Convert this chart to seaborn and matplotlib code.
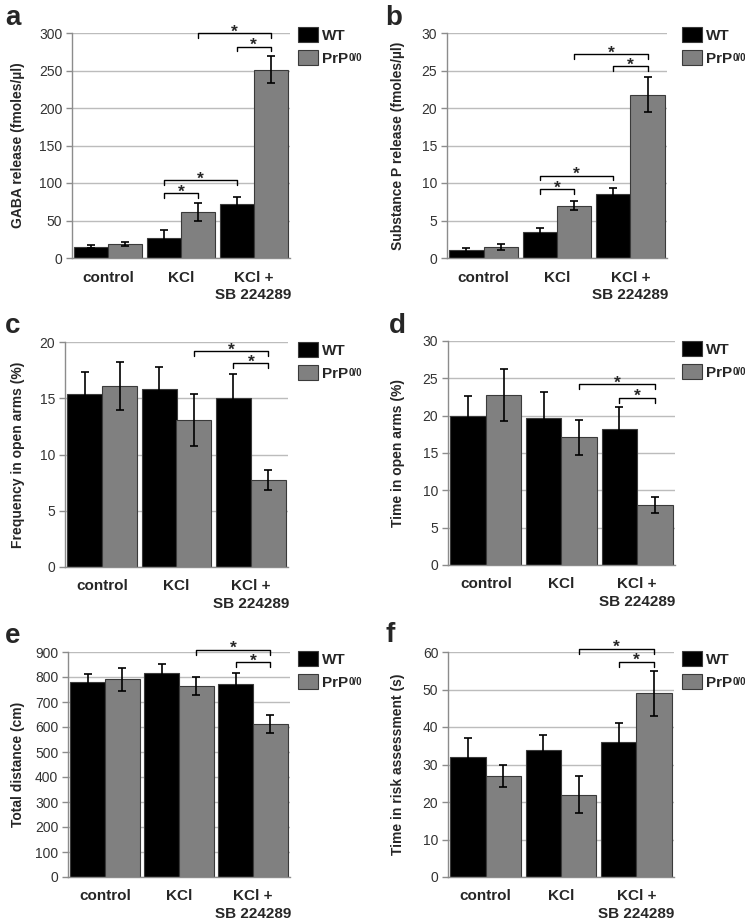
import matplotlib
matplotlib.use("Agg")
import matplotlib.pyplot as plt
import seaborn as sns
import numpy as np
import pandas as pd

# categories / groups
conditions = ["control", "KCl", "KCl +\nSB 224289"]
genotypes = ["WT", "PrP"]
ko_superscript = "0/0"

# a - GABA release
gaba_wt = [15, 27, 72]
gaba_wt_err = [2, 10, 9]
gaba_ko = [19, 61, 251]
gaba_ko_err = [3, 12, 18]

# b - substance P release
subp_wt = [1.1, 3.5, 8.5]
subp_wt_err = [0.3, 0.5, 0.9]
subp_ko = [1.45, 7.0, 21.8]
subp_ko_err = [0.4, 0.65, 2.3]

# c - frequency in open arms
freq_wt = [15.35, 15.8, 15.0]
freq_wt_err = [1.95, 2.0, 2.2]
freq_ko = [16.1, 13.1, 7.75]
freq_ko_err = [2.1, 2.3, 0.9]

# d - time in open arms
time_wt = [20.0, 19.7, 18.25]
time_wt_err = [2.6, 3.5, 2.95]
time_ko = [22.8, 17.1, 8.0]
time_ko_err = [3.5, 2.35, 1.1]

# e - total distance
dist_wt = [780, 815, 773]
dist_wt_err = [32, 37, 43]
dist_ko = [791, 765, 613]
dist_ko_err = [45, 37, 37]

# f - risk assessment
risk_wt = [32, 34, 36]
risk_wt_err = [5, 4, 5]
risk_ko = [27, 22, 49]
risk_ko_err = [3, 5, 6]

# significance brackets: ((group, genotype), (group, genotype), height)
sig_a = [((1, 0), (2, 0), 103.6), ((1, 0), (1, 1), 86.7),
         ((1, 1), (2, 1), 300), ((2, 0), (2, 1), 282)]
sig_b = [((1, 0), (2, 0), 11.0), ((1, 0), (1, 1), 9.2),
         ((1, 1), (2, 1), 27.2), ((2, 0), (2, 1), 25.6)]
sig_c = [((1, 1), (2, 1), 19.2), ((2, 0), (2, 1), 18.1)]
sig_d = [((1, 1), (2, 1), 24.2), ((2, 0), (2, 1), 22.4)]
sig_e = [((1, 1), (2, 1), 909), ((2, 0), (2, 1), 860)]
sig_f = [((1, 1), (2, 1), 60.9), ((2, 0), (2, 1), 57.4)]

sns.set_theme(style="white")
plt.rcParams["font.family"] = ["Liberation Sans", "DejaVu Sans"]

W, H = 745, 923
fig = plt.figure(figsize=(W / 100, H / 100), dpi=100)

panels = [
    # letter, ylabel, wt, wt_err, ko, ko_err, ymax, step, sigs
    ("a", "GABA release (fmoles/µl)", gaba_wt, gaba_wt_err, gaba_ko, gaba_ko_err, 300, 50, sig_a),
    ("b", "Substance P release (fmoles/µl)", subp_wt, subp_wt_err, subp_ko, subp_ko_err, 30, 5, sig_b),
    ("c", "Frequency in open arms (%)", freq_wt, freq_wt_err, freq_ko, freq_ko_err, 20, 5, sig_c),
    ("d", "Time in open arms (%)", time_wt, time_wt_err, time_ko, time_ko_err, 30, 5, sig_d),
    ("e", "Total distance (cm)", dist_wt, dist_wt_err, dist_ko, dist_ko_err, 900, 100, sig_e),
    ("f", "Time in risk assessment (s)", risk_wt, risk_wt_err, risk_ko, risk_ko_err, 60, 10, sig_f),
]

# pixel boxes: left, top, right, bottom ; label x (axes frac) ; letter pos ; legend pos
boxes = [
    (72, 33, 290, 258, -0.216, (5, 25), (298, 27)),
    (447, 33, 667, 258, -0.19, (385, 25), (682, 27)),
    (65, 342, 288, 567, -0.179, (5, 333), (298, 342)),
    (448, 341, 675, 565, -0.19, (389, 333), (682, 341)),
    (68, 652, 290, 877, -0.194, (5, 643), (298, 651)),
    (448, 652, 674, 877, -0.19, (385, 642), (682, 651)),
]

palette = {genotypes[0]: "black", genotypes[1]: "#808080"}
legends = []

for (letter, ylabel, wt, wt_err, ko, ko_err, ymax, step, sigs), box in zip(panels, boxes):
    l, t, r, b, lab_x, letter_pos, leg_pos = box
    ax = fig.add_axes([l / W, 1 - b / H, (r - l) / W, (b - t) / H])

    df = pd.DataFrame({
        "condition": conditions * 2,
        "genotype": [genotypes[0]] * 3 + [genotypes[1]] * 3,
        "value": wt + ko,
    })
    sns.barplot(data=df, x="condition", y="value", hue="genotype",
                palette=palette, width=0.94, errorbar=None,
                edgecolor="#3a3a3a", linewidth=0.8, ax=ax)

    # error bars on top of the bars
    centers = []
    for cont, vals, errs in zip(ax.containers, [wt, ko], [wt_err, ko_err]):
        xs = [p.get_x() + p.get_width() / 2 for p in cont.patches]
        centers.append(xs)
        ax.errorbar(xs, vals, yerr=errs, fmt="none", ecolor="black",
                    elinewidth=1.2, capsize=2.6, capthick=1.2, zorder=5)

    ax.set_ylim(0, ymax)
    ax.set_xlim(-0.5, 2.5)
    ax.set_yticks(np.arange(0, ymax + step / 2, step))
    ax.yaxis.grid(True, color="#bcbcbc", linewidth=1.0)
    ax.set_axisbelow(True)
    for s in ["top", "right"]:
        ax.spines[s].set_visible(False)
    for s in ["left", "bottom"]:
        ax.spines[s].set_color("#8c8c8c")
        ax.spines[s].set_linewidth(1.0)
    ax.tick_params(axis="y", which="both", left=True, length=4, width=1,
                   color="#8c8c8c", labelsize=10, labelcolor="#333333", pad=3)
    ax.tick_params(axis="x", length=0, pad=9)
    for lbl in ax.get_xticklabels():
        lbl.set_fontweight("bold")
        lbl.set_fontsize(11)
        lbl.set_linespacing(1.3)
    ax.set_xlabel("")
    ax.set_ylabel(ylabel, fontsize=10, fontweight="bold")
    ax.yaxis.set_label_coords(lab_x, 0.5)

    # significance brackets
    drop = 0.022 * ymax
    for (g1, h1), (g2, h2), yb in sigs:
        x1 = centers[h1][g1]
        x2 = centers[h2][g2]
        ax.plot([x1, x1, x2, x2], [yb - drop, yb, yb, yb - drop],
                color="black", linewidth=1.0, clip_on=False, zorder=6)
        ax.annotate("*", xy=((x1 + x2) / 2, yb), xytext=(0, -2.5),
                    textcoords="offset points", ha="center", va="baseline",
                    fontsize=12.5, fontweight="bold", annotation_clip=False)

    # legend to the right of the plot
    handles, labels = ax.get_legend_handles_labels()
    leg = ax.legend(handles, labels, loc="upper left",
                    bbox_to_anchor=(leg_pos[0] / W, 1 - leg_pos[1] / H),
                    bbox_transform=fig.transFigure, frameon=False,
                    prop={"weight": "bold", "size": 11},
                    handlelength=1.3, handleheight=1.1, handletextpad=0.3,
                    labelspacing=0.5, borderpad=0, borderaxespad=0)
    legends.append(leg)

    fig.text(letter_pos[0] / W, 1 - letter_pos[1] / H, letter,
             fontsize=20, fontweight="bold", ha="left", va="baseline")

# small superscript after "PrP" in each legend
fig.canvas.draw()
renderer = fig.canvas.get_renderer()
for leg in legends:
    bb = leg.get_texts()[1].get_window_extent(renderer)
    fig.text((bb.x1 + 0.5) / W, (bb.y1 - 1.5) / H, ko_superscript,
             fontsize=7, fontweight="bold", ha="left", va="top")

fig.savefig("out.png", dpi=100)
